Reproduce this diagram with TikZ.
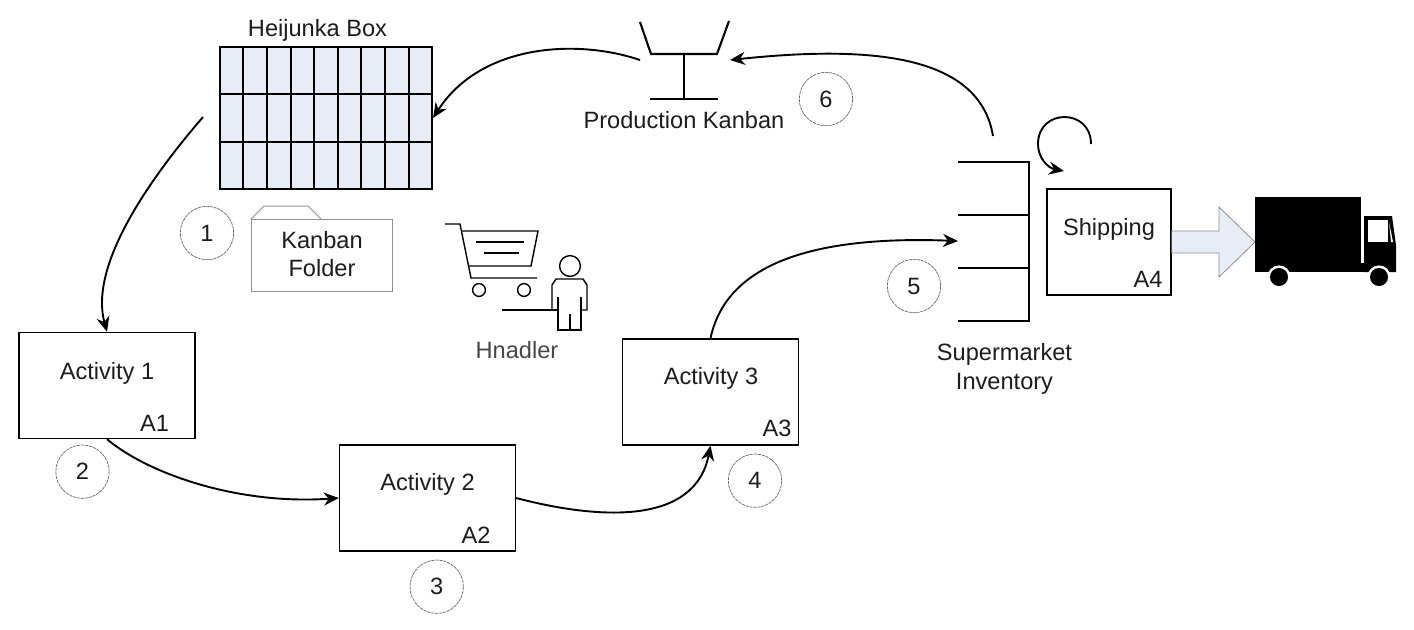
\documentclass[tikz,border=0pt]{standalone}
\usepackage{fontspec}
\setmainfont{Liberation Sans}
\usetikzlibrary{arrows.meta}
\definecolor{boxfill}{HTML}{E8ECF4}
\definecolor{thingray}{HTML}{8C9096}
\definecolor{softtext}{HTML}{1C1C1C}
\tikzset{
  actbox/.style={draw,line width=0.7pt,inner sep=0pt,minimum width=88pt,minimum height=53pt},
  lbl/.style={inner sep=0pt,text=softtext,font=\fontsize{11.8}{14.2}\selectfont,align=center},
  stepcircle/.style={lbl,draw=black!60,dash pattern=on 1.6pt off 0.4pt,line width=0.35pt,circle,minimum size=26.7pt},
  flow/.style={line width=0.95pt,-{Stealth[length=7.5pt,width=6.5pt]}},
  heavy/.style={line width=1.05pt},
  thin line/.style={line width=0.7pt}
}
\begin{document}
\begin{tikzpicture}[x=0.5pt,y=-0.5pt]
\useasboundingbox (0,0) rectangle (1414,629);

% heijunka box
\node[draw,heavy,fill=boxfill,inner sep=0pt,minimum width=106pt,minimum height=71pt] (heijunka) at (326,118) {};
\foreach \x in {243,266.7,290.7,314.3,337.7,361.3,385,408.7} {
  \draw[heavy] (\x,47) -- (\x,189);
}
\draw[heavy] (220,94.3) -- (432,94.3);
\draw[heavy] (220,141.7) -- (432,141.7);
\node[lbl] (heijunkatext) at (317.5,30) {Heijunka Box};

% kanban folder
\draw[thingray,line width=0.5pt] (251,219) -- (264,206) -- (308,206) -- (321,219);
\node[draw=thingray,line width=0.5pt,inner sep=0pt,minimum width=70.5pt,minimum height=36pt] (folder) at (321.5,255) {};
\node[lbl] (foldertext) at (322,254) {Kanban\\Folder};

% production kanban
\draw[heavy] (640,22) -- (651,54) -- (717,54) -- (729,21);
\draw[heavy] (684,54) -- (684,99);
\draw[heavy] (650,99) -- (718,99);
\node[lbl] (kanbantext) at (684,120) {Production Kanban};

% handler and cart
\draw[thin line] (445,224) -- (460,224) -- (471,278) -- (537,278);
\draw[thin line] (462,231) -- (538,231) -- (531,266) -- (468,266);
\draw[thin line] (476,242) -- (524,242);
\draw[thin line] (484,253) -- (519,253);
\draw[thin line] (479,290) circle (3.2pt);
\draw[thin line] (524,290) circle (3.2pt);
\draw[thin line] (570,266) circle (5.2pt);
\draw[thin line] (552,310) -- (552,285) -- (556,279) -- (583,279) -- (587,285) -- (587,310) -- (581,310);
\draw[thin line] (502,310) -- (558,310);
\draw[thin line] (558,297) -- (558,330) -- (581,330) -- (581,297);
\draw[thin line] (570,314) -- (570,330);
\node[lbl,text=black!72] (handlertext) at (517,350.5) {Hnadler};

% activities
\node[actbox] (act1) at (107,385.5) {};
\node[actbox] (act2) at (427.5,498) {};
\node[actbox] (act3) at (710.5,392) {};
\node[actbox,minimum width=62pt] (ship) at (1109,242) {};
\node[lbl] (act1text) at (107,373) {Activity 1};
\node[lbl] (act2text) at (427.5,484.7) {Activity 2};
\node[lbl] (act3text) at (711,378) {Activity 3};
\node[lbl] (shiptext) at (1109,229) {Shipping};
\node[lbl] (a1) at (154.5,423.5) {A1};
\node[lbl] (a2) at (476,535) {A2};
\node[lbl] (a3) at (777,428.5) {A3};
\node[lbl] (a4) at (1148,279.5) {A4};

% supermarket
\draw[heavy] (958,162) -- (1029,162) -- (1029,321) -- (958,321);
\draw[heavy] (958,215) -- (1029,215);
\draw[heavy] (958,268) -- (1029,268);
\node[lbl] (markettext) at (1004.5,368.7) {Supermarket\\Inventory};

% circles
\node[stepcircle] (c1) at (207,233) {1};
\node[stepcircle] (c2) at (82.5,471.7) {2};
\node[stepcircle] (c3) at (436.7,586.7) {3};
\node[stepcircle] (c4) at (755,480.7) {4};
\node[stepcircle] (c5) at (914,286) {5};
\node[stepcircle] (c6) at (826,99) {6};

% free ends
\coordinate (heijunkaout) at (203,117);
\coordinate (marketin) at (958,241);
\coordinate (marketout) at (993,136);
\coordinate (kanbanin) at (730,60);
\coordinate (kanbanout) at (640,60);
\coordinate (loopa) at (1091,144);
\coordinate (loopb) at (1038,144);
\coordinate (loopc) at (1064,171);

% flows
\draw[flow] (heijunkaout) .. controls (140,190) and (90,270) .. (act1.north);
\draw[flow] (act1.south) .. controls (150,475) and (240,505) .. (act2.west);
\draw[flow] (act2.east) .. controls (600,520) and (695,525) .. (act3.south);
\draw[flow] (act3.north) .. controls (725,270) and (800,235) .. (marketin);
\draw[flow] (marketout) .. controls (980,58) and (880,44) .. (kanbanin);
\draw[flow] (kanbanout) .. controls (575,38) and (480,45) .. (heijunka.east);
\draw[flow] (loopa) .. controls (1091,108) and (1038,108) .. (loopb) .. controls (1038,158) and (1048,168) .. (loopc);

% block arrow
\draw[fill=boxfill,draw=thingray,line width=0.4pt] (ship.east |- 0,231) -- (1219,231) -- (1219,207) -- (1255,242) -- (1219,277) -- (1219,253) -- (ship.east |- 0,253);

% truck
\fill (1255,197) rectangle (1361,272);
\fill (1361,263) rectangle (1364,272);
\fill (1364,216) -- (1392,216) -- (1396,245) -- (1396,272) -- (1364,272) -- cycle;
\fill[white] (1368,220) rectangle (1388,242);
\fill[white] (1389,222) -- (1391,242) -- (1393,242) -- cycle;
\fill[white] (1279,277) circle (5.8pt);
\fill[white] (1379,277) circle (5.8pt);
\fill (1279,277) circle (4.5pt);
\fill (1379,277) circle (4.5pt);
\end{tikzpicture}
\end{document}
